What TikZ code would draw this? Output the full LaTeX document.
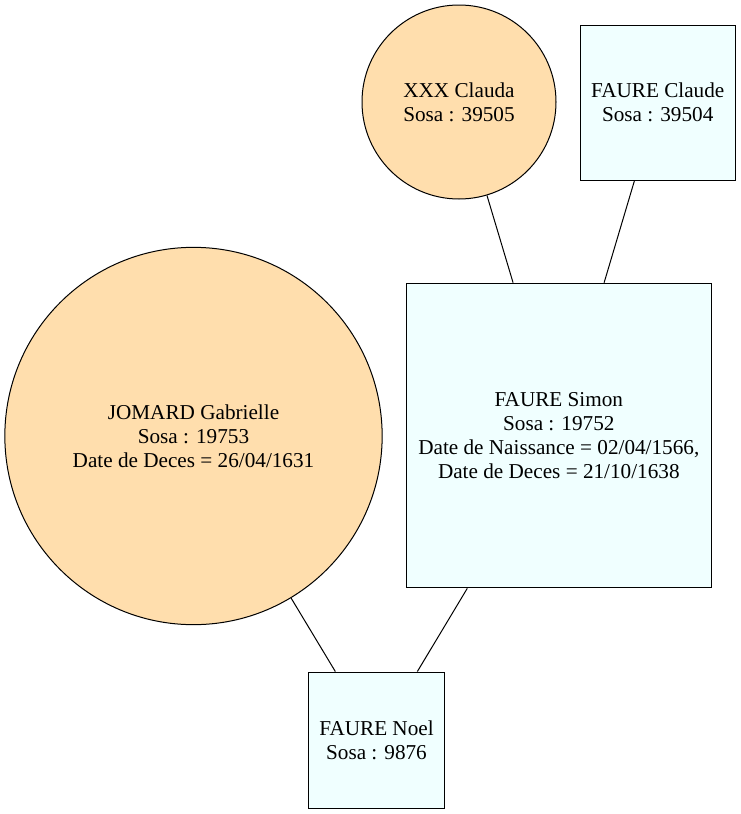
\documentclass[tikz,border=0pt]{standalone}
\usepackage{fontspec}
\setmainfont{Liberation Serif}
\usepackage{tikz}
\definecolor{navajo}{RGB}{255,222,173}
\definecolor{azur}{RGB}{240,255,255}

\begin{document}
\begin{tikzpicture}[x=0.75pt,y=-0.75pt,
  every node/.style={draw,line width=0.75pt,align=center,inner sep=0pt,font=\fontsize{15.9}{18}\selectfont},
  femme/.style={circle,fill=navajo},
  homme/.style={rectangle,fill=azur}]
\useasboundingbox (0,0) rectangle (741,814);
\node[femme,minimum size=145.5pt] (clauda) at (459,102) {XXX Clauda\\Sosa : 39505};
\node[homme,minimum size=116.25pt] (claude) at (657.7,102.5) {FAURE Claude\\Sosa : 39504};
\node[homme,minimum size=228.5pt] (simon) at (558.8,435.5) {FAURE Simon\\Sosa : 19752\\Date de Naissance = 02/04/1566,\\Date de Deces = 21/10/1638};
\node[femme,minimum size=283pt] (gabrielle) at (193.5,436) {JOMARD Gabrielle\\Sosa : 19753\\Date de Deces = 26/04/1631};
\node[homme,minimum size=102pt] (noel) at (376.5,740) {FAURE Noel\\Sosa : 9876};
\draw[line width=0.75pt] (clauda) -- (simon);
\draw[line width=0.75pt] (claude) -- (simon);
\draw[line width=0.75pt] (gabrielle) -- (noel);
\draw[line width=0.75pt] (simon) -- (noel);
\end{tikzpicture}
\end{document}
